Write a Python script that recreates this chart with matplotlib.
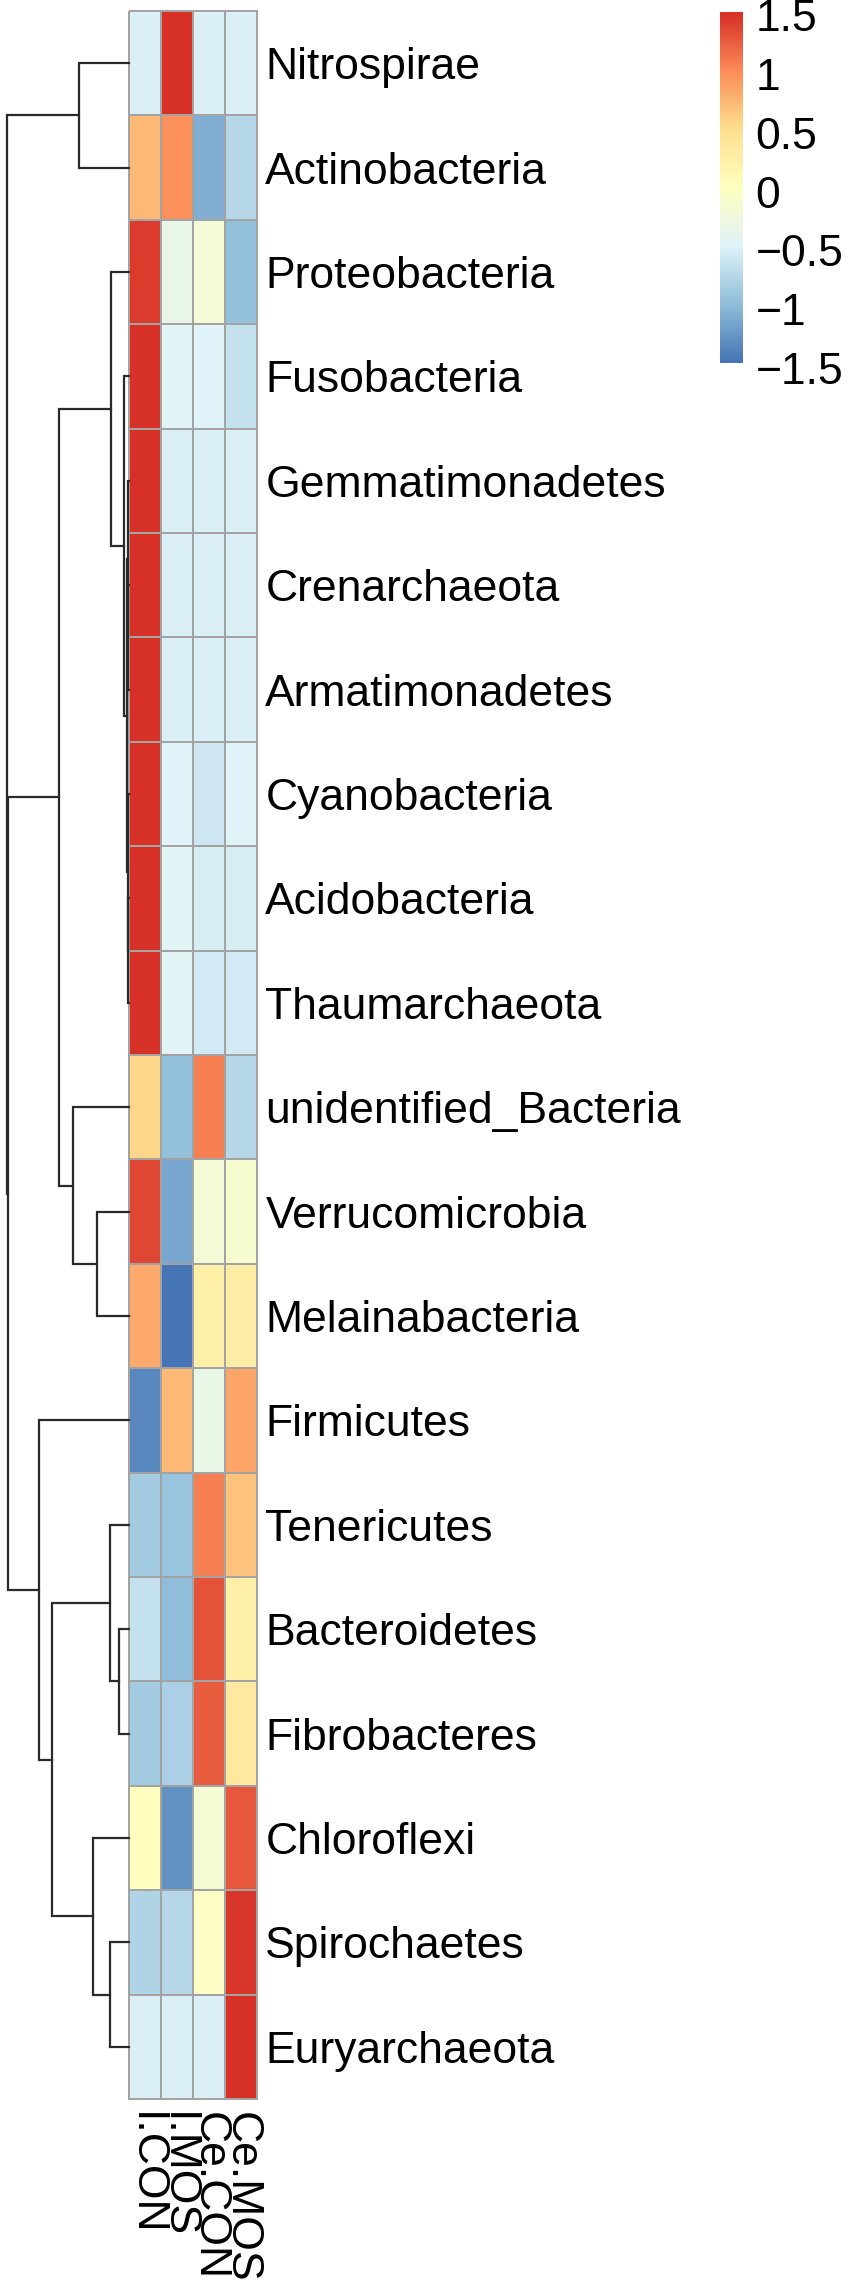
import numpy as np
import matplotlib
matplotlib.use("Agg")
import matplotlib.pyplot as plt
from matplotlib.colors import LinearSegmentedColormap, Normalize

plt.rcParams["font.family"] = ["Liberation Sans", "DejaVu Sans"]

# rows in display order (top to bottom)
phyla = [
    "Nitrospirae", "Actinobacteria", "Proteobacteria", "Fusobacteria",
    "Gemmatimonadetes", "Crenarchaeota", "Armatimonadetes", "Cyanobacteria",
    "Acidobacteria", "Thaumarchaeota", "unidentified_Bacteria", "Verrucomicrobia",
    "Melainabacteria", "Firmicutes", "Tenericutes", "Bacteroidetes",
    "Fibrobacteres", "Chloroflexi", "Spirochaetes", "Euryarchaeota",
]
samples = ["I.CON", "I.MOS", "Ce.CON", "Ce.MOS"]

# row z-scores per sample
i_con = [-0.50, 0.77, 1.45, 1.50, 1.50, 1.50, 1.50, 1.50, 1.50, 1.50,
         0.60, 1.38, 0.85, -1.32, -0.85, -0.63, -0.85, 0.05, -0.75, -0.50]
i_mos = [1.50, 1.00, -0.35, -0.42, -0.50, -0.50, -0.50, -0.46, -0.44, -0.42,
         -0.95, -1.10, -1.46, 0.75, -0.92, -0.97, -0.80, -1.25, -0.73, -0.50]
ce_con = [-0.50, -1.05, -0.15, -0.45, -0.50, -0.50, -0.50, -0.58, -0.53, -0.54,
          1.10, -0.17, 0.28, -0.30, 1.10, 1.33, 1.28, -0.12, 0.00, -0.50]
ce_mos = [-0.50, -0.72, -0.95, -0.63, -0.50, -0.50, -0.50, -0.46, -0.53, -0.54,
          -0.72, -0.11, 0.33, 0.87, 0.70, 0.30, 0.38, 1.30, 1.48, 1.50]

# row dendrogram merges: (left, right, height); ids >= 20 are earlier merges
merges = [
    (5, 6, 0.7), (4, 20, 1.5), (8, 9, 0.7), (7, 22, 1.5), (21, 23, 2.5),
    (3, 24, 5), (2, 25, 18), (11, 12, 32), (10, 27, 56), (26, 28, 70),
    (15, 16, 10), (14, 30, 19), (18, 19, 19), (17, 32, 36), (31, 33, 77),
    (13, 34, 90), (29, 35, 120.7), (0, 1, 50), (37, 36, 122.5),
]

palette = ["#4575B4", "#91BFDB", "#E0F3F8", "#FFFFBF", "#FEE090", "#FC8D59", "#D73027"]
legend_ticks = [-1.5, -1, -0.5, 0, 0.5, 1, 1.5]
legend_labels = ["\u22121.5", "\u22121", "\u22120.5", "0", "0.5", "1", "1.5"]
vmin, vmax = -1.457, 1.525

W, H = 850, 2290
fig = plt.figure(figsize=(W / 100, H / 100), dpi=100)


def box(x0, y0, x1, y1):
    # pixel box with top-left origin -> figure fraction rect
    return [x0 / W, 1 - y1 / H, (x1 - x0) / W, (y1 - y0) / H]


cmap = LinearSegmentedColormap.from_list("rdylbu", palette, N=100)
norm = Normalize(vmin, vmax)

# heatmap
ax = fig.add_axes(box(129, 11, 257, 2099))
mat = np.column_stack([i_con, i_mos, ce_con, ce_mos])
mesh = ax.pcolormesh(mat, cmap=cmap, norm=norm, edgecolors="#a3a3a3", linewidth=1.3)
mesh.set_clip_on(False)
ax.set_xlim(0, len(samples))
ax.set_ylim(len(phyla), 0)
ax.set_yticks(np.arange(len(phyla)) + 0.5, phyla, fontsize=32)
ax.yaxis.tick_right()
ax.tick_params(axis="y", length=0, pad=6)
ax.set_xticks(np.arange(len(samples)) + 0.5, samples, rotation=270, fontsize=32)
ax.tick_params(axis="x", length=0, pad=9)
for s in ax.spines.values():
    s.set_visible(False)

# row dendrogram
dax = fig.add_axes(box(0, 11, 129, 2099))
dax.set_xlim(129, 0)
dax.set_ylim(len(phyla), 0)
dax.axis("off")
n = len(phyla)
pos = {i: (i + 0.5, 0.0) for i in range(n)}
for k, (a, b, h) in enumerate(merges):
    ya, ha = pos[a]
    yb, hb = pos[b]
    dax.plot([ha, h, h, hb], [ya, ya, yb, yb], color="#2a2a2a", lw=1.6,
             solid_joinstyle="miter", clip_on=False)
    pos[n + k] = ((ya + yb) / 2, h)

# colour legend
ppu = (363 - 12) / (vmax - vmin)
cax = fig.add_axes(box(720, 0, 743, 380))
grad = np.linspace(vmin, vmax, 200).reshape(-1, 1)
cax.imshow(grad, cmap=cmap, norm=norm, aspect="auto", origin="lower",
           extent=(0, 1, vmin, vmax))
cax.set_xlim(0, 1)
cax.set_ylim(vmin - 17 / ppu, vmax + 12 / ppu)
cax.set_xticks([])
cax.set_yticks(legend_ticks, legend_labels, fontsize=32)
cax.yaxis.tick_right()
cax.tick_params(axis="y", length=0, pad=9)
for s in cax.spines.values():
    s.set_visible(False)

fig.savefig("out.png", dpi=100)
